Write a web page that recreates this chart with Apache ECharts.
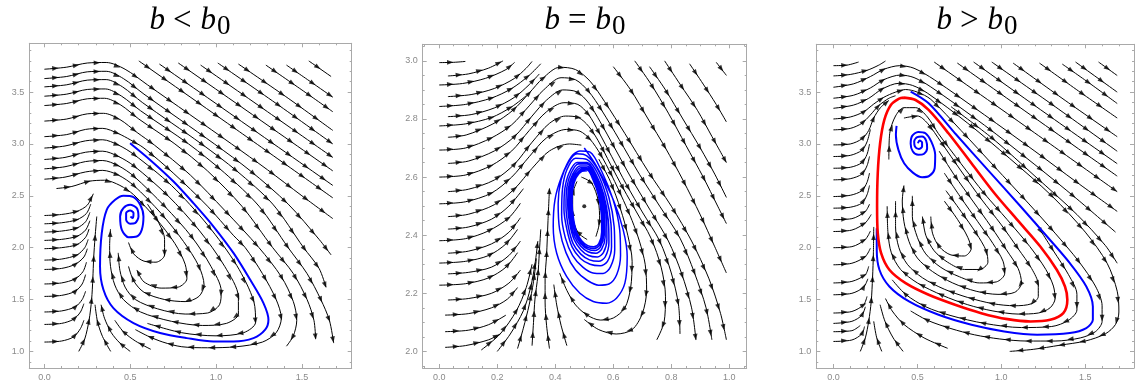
<!DOCTYPE html>
<html>
<head>
<meta charset="utf-8">
<script src="https://cdn.jsdelivr.net/npm/echarts@6/dist/echarts.min.js"></script>
<style>
html,body{margin:0;padding:0;background:#fff;}
#c{width:1137px;height:382px;}
</style>
</head>
<body>
<div id="c"></div>
<script>
// ---------- tick labels ----------
const P1_XLABELS = ['0.0', '0.5', '1.0', '1.5'];
const P1_YLABELS = ['1.0', '1.5', '2.0', '2.5', '3.0', '3.5'];
const P2_XLABELS = ['0.0', '0.2', '0.4', '0.6', '0.8', '1.0'];
const P2_YLABELS = ['2.0', '2.2', '2.4', '2.6', '2.8', '3.0'];
const P3_XLABELS = ['0.0', '0.5', '1.0', '1.5'];
const P3_YLABELS = ['1.0', '1.5', '2.0', '2.5', '3.0', '3.5'];

// ---------- panel 1 : b < b0 ----------
const P1_STREAMS = [
  // diagonal streams entering from the top edge
  [[0.55,3.80],[1.1,3.16],[1.68,2.48]],
  [[0.67,3.77],[1.18,3.18],[1.68,2.60]],
  [[0.78,3.78],[1.24,3.25],[1.68,2.74]],
  [[0.91,3.76],[1.30,3.31],[1.68,2.87]],
  [[1.01,3.78],[1.35,3.39],[1.68,3.00]],
  [[1.13,3.77],[1.42,3.44],[1.68,3.13]],
  [[1.29,3.76],[1.50,3.52],[1.68,3.31]],
  [[1.41,3.76],[1.55,3.60],[1.68,3.45]],
  [[1.54,3.80],[1.67,3.65]],
  // upper rows from the left edge, bending into the diagonals
  [[0,3.72],[0.13,3.74],[0.25,3.78],[0.36,3.785],[0.47,3.72],[0.6,3.57],[1.09,3.0],[1.3,2.75],[1.5,2.5],[1.68,2.28]],
  [[0,3.63],[0.13,3.65],[0.25,3.695],[0.36,3.70],[0.46,3.63],[0.58,3.48],[0.99,3.0],[1.2,2.74],[1.42,2.42],[1.6,2.08],[1.67,1.93]],
  [[0,3.55],[0.13,3.57],[0.25,3.615],[0.36,3.62],[0.455,3.55],[0.57,3.4],[0.915,3.0],[1.12,2.74],[1.33,2.42],[1.51,2.0],[1.6,1.8],[1.64,1.62]],
  [[0,3.46],[0.13,3.48],[0.25,3.525],[0.355,3.53],[0.45,3.46],[0.56,3.32],[0.84,3.0],[1.05,2.72],[1.25,2.4],[1.42,2.0],[1.53,1.75],[1.61,1.5],[1.66,1.3],[1.685,1.08]],
  [[0,3.37],[0.13,3.39],[0.25,3.435],[0.35,3.44],[0.445,3.375],[0.55,3.24],[0.76,3.0],[0.95,2.74],[1.15,2.4],[1.33,2.0],[1.45,1.75],[1.53,1.5],[1.57,1.3],[1.58,1.12]],
  [[0,3.22],[0.13,3.24],[0.25,3.29],[0.345,3.295],[0.44,3.235],[0.54,3.11],[0.64,2.99],[0.85,2.7],[1.05,2.36],[1.25,2.0],[1.38,1.72],[1.45,1.48],[1.47,1.3],[1.45,1.15],[1.41,1.05]],
  [[0,3.07],[0.13,3.09],[0.24,3.14],[0.34,3.15],[0.43,3.1],[0.5,3.04],[0.58,2.96],[0.75,2.72],[0.95,2.4],[1.1,2.12],[1.17,2.0],[1.27,1.75],[1.35,1.5],[1.38,1.32],[1.35,1.18],[1.27,1.09],[1.12,1.045],[0.95,1.035],[0.8,1.045],[0.69,1.09],[0.6,1.15],[0.53,1.21]],
  // rows that turn around the focus inside the blue orbit
  [[0,2.96],[0.12,2.98],[0.24,3.03],[0.34,3.04],[0.43,2.99],[0.52,2.9],[0.74,2.6],[0.95,2.22],[1.12,1.83],[1.22,1.48],[1.23,1.28],[1.16,1.18],[1.0,1.15],[0.8,1.18],[0.6,1.27]],
  [[0,2.85],[0.12,2.87],[0.24,2.92],[0.34,2.93],[0.43,2.88],[0.52,2.79],[0.72,2.5],[0.9,2.17],[1.05,1.82],[1.13,1.52],[1.13,1.36],[1.06,1.27],[0.92,1.25],[0.74,1.29],[0.56,1.38],[0.46,1.5],[0.41,1.64],[0.385,1.82],[0.38,2.02],[0.385,2.18]],
  [[0,2.76],[0.12,2.78],[0.24,2.83],[0.34,2.84],[0.43,2.79],[0.52,2.69],[0.7,2.4],[0.86,2.1],[0.97,1.82],[1.03,1.58],[1.02,1.45],[0.95,1.37],[0.82,1.36],[0.66,1.41],[0.53,1.5],[0.47,1.62],[0.44,1.78],[0.43,1.95]],
  [[0,2.66],[0.12,2.68],[0.24,2.73],[0.34,2.745],[0.43,2.7],[0.52,2.6],[0.68,2.33],[0.81,2.06],[0.9,1.82],[0.93,1.64],[0.9,1.53],[0.82,1.48],[0.7,1.5],[0.58,1.57],[0.52,1.68],[0.49,1.82]],
  [[0.07,2.57],[0.16,2.59],[0.26,2.64],[0.35,2.65],[0.44,2.6],[0.52,2.51],[0.65,2.28],[0.76,2.04],[0.82,1.84],[0.83,1.7],[0.78,1.62],[0.68,1.61],[0.58,1.67],[0.54,1.78]],
  [[0.6,2.42],[0.66,2.26],[0.7,2.08],[0.7,1.93],[0.65,1.86],[0.58,1.87],[0.52,1.94],[0.49,2.05]],
  // lower rows from the left edge, turning upward
  [[0,2.31],[0.1,2.32],[0.19,2.35],[0.25,2.41],[0.285,2.52]],
  [[0,2.23],[0.1,2.24],[0.19,2.27],[0.245,2.33],[0.27,2.42]],
  [[0,2.15],[0.1,2.16],[0.19,2.19],[0.24,2.25],[0.265,2.34]],
  [[0,2.07],[0.1,2.08],[0.19,2.11],[0.24,2.17],[0.265,2.26]],
  [[0,1.99],[0.1,2.0],[0.19,2.03],[0.24,2.1],[0.26,2.18]],
  [[0,1.88],[0.1,1.89],[0.19,1.93],[0.235,2.0],[0.255,2.08]],
  [[0,1.79],[0.1,1.8],[0.18,1.84],[0.23,1.91],[0.25,1.99]],
  [[0,1.65],[0.1,1.66],[0.18,1.7],[0.225,1.77],[0.245,1.86]],
  [[0,1.53],[0.1,1.54],[0.18,1.58],[0.22,1.65],[0.24,1.74]],
  [[0,1.38],[0.1,1.39],[0.18,1.43],[0.22,1.5],[0.24,1.58]],
  [[0,1.26],[0.1,1.27],[0.17,1.31],[0.21,1.38],[0.23,1.46]],
  [[0,1.09],[0.1,1.1],[0.17,1.14],[0.21,1.22],[0.23,1.3]],
  // streams rising from the bottom edge
  [[0.2,1.0],[0.235,1.12],[0.26,1.3],[0.275,1.5],[0.282,1.7],[0.287,1.9],[0.295,2.1],[0.305,2.3]],
  [[0.386,1.0],[0.338,1.145],[0.309,1.29],[0.295,1.45]],
  [[0.5,1.0],[0.44,1.08],[0.39,1.18],[0.35,1.32],[0.33,1.45]],
  [[0.62,1.02],[0.53,1.1],[0.46,1.19],[0.41,1.3]]
];
const P1_BLUE = [
  [0.499,3.007],[0.616,2.846],[0.752,2.638],[0.868,2.429],[0.985,2.204],[1.102,1.947],[1.199,1.69],
  [1.276,1.466],[1.305,1.305],[1.286,1.209],[1.218,1.128],[1.102,1.096],[0.985,1.096],[0.829,1.128],
  [0.674,1.177],[0.519,1.273],[0.402,1.417],[0.344,1.594],[0.324,1.819],[0.334,2.14],[0.363,2.365],
  [0.412,2.461],[0.46,2.5],[0.519,2.487],[0.558,2.413],[0.577,2.301],[0.567,2.172],[0.538,2.108],
  [0.49,2.101],[0.451,2.172],[0.441,2.301],[0.46,2.381],[0.499,2.413],[0.538,2.381],[0.548,2.301],
  [0.528,2.236],[0.499,2.23],[0.476,2.268],[0.476,2.333],[0.499,2.358],[0.519,2.333],[0.515,2.285],[0.501,2.301]
];

// ---------- panel 2 : b = b0 ----------
const P2_STREAMS = [
  // rows from the left edge reaching the top
  [[0.0,2.994],[0.05,2.995],[0.09,2.998]],
  [[0.03,2.948],[0.1,2.955],[0.17,2.975],[0.22,3.0]],
  [[0.0,2.917],[0.08,2.922],[0.16,2.94],[0.23,2.97],[0.26,2.995]],
  [[0.03,2.877],[0.11,2.884],[0.19,2.905],[0.26,2.94],[0.3,2.975],[0.32,2.998]],
  [[0.0,2.843],[0.09,2.85],[0.18,2.872],[0.25,2.905],[0.31,2.95],[0.35,2.99]],
  [[0.03,2.808],[0.11,2.815],[0.19,2.838],[0.26,2.875],[0.31,2.918],[0.345,2.955]],
  [[0.0,2.776],[0.09,2.783],[0.18,2.805],[0.25,2.842],[0.3,2.88]],
  // arches over the centre
  [[0.03,2.737],[0.093,2.745],[0.185,2.783],[0.254,2.83],[0.311,2.89],[0.357,2.94],[0.415,2.978],[0.47,2.97],[0.52,2.93],[0.57,2.86],[0.64,2.75],[0.72,2.62],[0.8,2.5],[0.87,2.38],[0.93,2.25],[0.97,2.13],[0.99,2.04]],
  [[0.0,2.693],[0.09,2.7],[0.18,2.735],[0.25,2.78],[0.31,2.845],[0.36,2.9],[0.42,2.942],[0.47,2.935],[0.515,2.895],[0.56,2.83],[0.62,2.73],[0.69,2.61],[0.76,2.5],[0.83,2.39],[0.88,2.27],[0.92,2.15],[0.94,2.04]],
  [[0.03,2.647],[0.1,2.655],[0.19,2.69],[0.26,2.74],[0.32,2.81],[0.37,2.865],[0.426,2.9],[0.475,2.893],[0.515,2.855],[0.555,2.79],[0.605,2.7],[0.66,2.6],[0.725,2.49],[0.79,2.38],[0.835,2.27],[0.87,2.15],[0.885,2.04]],
  [[0.0,2.6],[0.09,2.607],[0.18,2.64],[0.25,2.69],[0.31,2.76],[0.37,2.825],[0.43,2.856],[0.478,2.85],[0.515,2.815],[0.55,2.755],[0.595,2.67],[0.645,2.575],[0.7,2.48],[0.76,2.38],[0.8,2.27],[0.825,2.16],[0.83,2.06]],
  [[0.03,2.55],[0.1,2.558],[0.19,2.59],[0.26,2.645],[0.32,2.72],[0.38,2.785],[0.435,2.81],[0.48,2.805],[0.515,2.775],[0.548,2.725],[0.59,2.645],[0.635,2.56],[0.68,2.48],[0.73,2.39],[0.765,2.29],[0.78,2.19],[0.775,2.1],[0.75,2.04]],
  [[0.0,2.508],[0.09,2.515],[0.18,2.545],[0.25,2.6],[0.31,2.67],[0.37,2.735],[0.438,2.764],[0.485,2.758],[0.52,2.73],[0.555,2.68],[0.595,2.605],[0.635,2.52],[0.665,2.45],[0.69,2.38],[0.71,2.3],[0.715,2.21],[0.7,2.13],[0.665,2.075],[0.61,2.06],[0.55,2.075],[0.5,2.11]],
  [[0.03,2.464],[0.1,2.472],[0.19,2.505],[0.26,2.56],[0.32,2.63],[0.38,2.69],[0.449,2.714],[0.49,2.71]],
  [[0.55,2.662],[0.59,2.585],[0.625,2.49],[0.65,2.4],[0.665,2.31],[0.66,2.22],[0.64,2.15],[0.6,2.115],[0.555,2.108],[0.51,2.125],[0.47,2.16],[0.44,2.21],[0.415,2.27]],
  // steep streams from the top edge on the right
  [[0.6,2.98],[0.66,2.9],[0.72,2.8],[0.78,2.7],[0.84,2.59],[0.9,2.47],[0.95,2.36],[0.99,2.27]],
  [[0.674,3.0],[0.73,2.92],[0.79,2.82],[0.85,2.71],[0.91,2.6],[0.96,2.5],[0.99,2.44]],
  [[0.725,2.98],[0.78,2.9],[0.84,2.8],[0.9,2.7],[0.95,2.61],[0.99,2.53]],
  [[0.777,3.0],[0.83,2.92],[0.89,2.83],[0.94,2.74],[0.99,2.65]],
  [[0.863,2.99],[0.91,2.92],[0.955,2.85],[0.99,2.79]],
  [[0.955,2.995],[0.99,2.95]],
  // lower rows from the left edge
  [[0.03,2.421],[0.1,2.428],[0.18,2.455],[0.24,2.5],[0.29,2.56]],
  [[0.0,2.381],[0.09,2.388],[0.17,2.415],[0.24,2.46],[0.28,2.51]],
  [[0.03,2.338],[0.1,2.345],[0.18,2.37],[0.24,2.41],[0.28,2.46]],
  [[0.0,2.304],[0.09,2.31],[0.17,2.33],[0.23,2.37],[0.27,2.42]],
  [[0.03,2.267],[0.1,2.272],[0.18,2.29],[0.24,2.33],[0.28,2.38]],
  [[0.0,2.228],[0.09,2.233],[0.17,2.253],[0.23,2.29],[0.27,2.34]],
  [[0.03,2.177],[0.1,2.182],[0.18,2.2],[0.24,2.235],[0.28,2.28]],
  [[0.02,2.125],[0.1,2.13],[0.18,2.15],[0.235,2.18],[0.27,2.22]],
  [[0.02,2.068],[0.1,2.073],[0.17,2.092],[0.23,2.125]],
  [[0.02,2.014],[0.09,2.02],[0.17,2.04],[0.21,2.06]],
  // streams rising from the bottom edge
  [[0.145,2.005],[0.21,2.06],[0.266,2.14],[0.3,2.22],[0.32,2.3]],
  [[0.2,2.0],[0.245,2.06],[0.29,2.14],[0.315,2.22],[0.33,2.3],[0.34,2.38]],
  [[0.27,2.01],[0.29,2.08],[0.31,2.16],[0.325,2.24],[0.335,2.32]],
  [[0.32,2.02],[0.325,2.1],[0.33,2.18],[0.34,2.26],[0.345,2.34],[0.35,2.42]],
  [[0.38,2.01],[0.37,2.09],[0.365,2.17],[0.365,2.25],[0.37,2.33],[0.375,2.45],[0.38,2.56]],
  [[0.44,2.02],[0.42,2.09],[0.405,2.16],[0.395,2.23]],
  // closed orbit around the equilibrium
  [[0.49,2.6],[0.525,2.58],[0.548,2.52],[0.553,2.45],[0.54,2.395]],
  [[0.51,2.385],[0.478,2.41],[0.46,2.47],[0.46,2.54],[0.475,2.585]]
];
const P2_BLUE = [
  [0.5,2.70],[0.543,2.636],[0.6,2.522],[0.634,2.419],[0.648,2.327],[0.64,2.235],[0.611,2.183],[0.577,2.166],[0.531,2.172],[0.485,2.2],[0.439,2.258],[0.405,2.338],[0.393,2.43],[0.399,2.522],[0.422,2.602],[0.456,2.671],[0.485,2.69],
  [0.52,2.686],[0.56,2.62],[0.6,2.52],[0.622,2.42],[0.625,2.33],[0.612,2.265],[0.585,2.232],[0.55,2.228],[0.51,2.245],[0.47,2.28],[0.437,2.34],[0.415,2.42],[0.41,2.51],[0.42,2.59],[0.445,2.65],[0.475,2.68],
  [0.51,2.672],[0.55,2.62],[0.585,2.53],[0.603,2.43],[0.605,2.35],[0.59,2.29],[0.565,2.268],[0.53,2.27],[0.495,2.29],[0.46,2.33],[0.435,2.39],[0.422,2.47],[0.425,2.56],[0.44,2.625],[0.47,2.665],
  [0.51,2.66],[0.545,2.615],[0.575,2.535],[0.592,2.44],[0.594,2.36],[0.58,2.31],[0.555,2.295],[0.52,2.3],[0.487,2.32],[0.458,2.36],[0.44,2.42],[0.43,2.49],[0.433,2.56],[0.448,2.615],[0.475,2.65],
  [0.51,2.65],[0.54,2.61],[0.567,2.54],[0.583,2.45],[0.585,2.375],[0.572,2.325],[0.55,2.31],[0.518,2.315],[0.488,2.335],[0.462,2.37],[0.445,2.43],[0.437,2.5],[0.44,2.565],[0.455,2.615],[0.48,2.645],
  [0.51,2.645],[0.538,2.605],[0.562,2.54],[0.577,2.455],[0.578,2.385],[0.566,2.34],[0.545,2.325],[0.515,2.33],[0.488,2.35],[0.465,2.385],[0.45,2.44],[0.443,2.505],[0.446,2.565],[0.46,2.61],[0.485,2.638],
  [0.51,2.638],[0.535,2.6],[0.557,2.54],[0.571,2.46],[0.572,2.395],[0.56,2.352],[0.54,2.338],[0.513,2.343],[0.488,2.362],[0.467,2.395],[0.453,2.447],[0.447,2.508],[0.45,2.565],[0.464,2.607],[0.488,2.632],
  [0.51,2.632],[0.533,2.597],[0.553,2.54],[0.566,2.465],[0.567,2.402],[0.556,2.36],[0.537,2.347],[0.512,2.352],[0.489,2.37],[0.47,2.402],[0.457,2.452],[0.452,2.51],[0.455,2.563],[0.468,2.603],[0.49,2.627],
  [0.51,2.628],[0.531,2.594],[0.55,2.54],[0.562,2.468],[0.563,2.407],[0.553,2.366],[0.535,2.354],[0.512,2.358],[0.49,2.376],[0.472,2.406],[0.46,2.455],[0.455,2.512],[0.458,2.562],[0.47,2.6],[0.491,2.623],
  [0.51,2.624],[0.53,2.591],[0.548,2.54],[0.559,2.47],[0.56,2.411],[0.55,2.371],[0.533,2.36],[0.512,2.364],[0.491,2.381],[0.474,2.41],[0.463,2.457],[0.458,2.513],[0.461,2.561],[0.472,2.598],[0.492,2.62],[0.51,2.622]
];
const P2_CENTER = [[0.5, 2.5]];

// ---------- panel 3 : b > b0 ----------
const P3_STREAMS = [
  // diagonal streams entering from the top edge
  [[0.6,3.79],[1.1,3.22],[1.69,2.54]],
  [[0.738,3.78],[1.2,3.25],[1.69,2.69]],
  [[0.835,3.79],[1.26,3.3],[1.69,2.81]],
  [[0.943,3.79],[1.32,3.36],[1.69,2.93]],
  [[1.07,3.78],[1.38,3.42],[1.69,3.07]],
  [[1.227,3.78],[1.46,3.51],[1.69,3.25]],
  [[1.363,3.77],[1.53,3.58],[1.69,3.39]],
  [[1.442,3.79],[1.57,3.64],[1.69,3.5]],
  [[1.579,3.79],[1.69,3.66]],
  // upper rows from the left edge
  [[0,3.755],[0.08,3.76],[0.15,3.79]],
  [[0,3.656],[0.1,3.67],[0.2,3.71],[0.27,3.76],[0.31,3.8]],
  [[0,3.547],[0.12,3.58],[0.22,3.65],[0.3,3.72],[0.395,3.755],[0.48,3.73],[0.6,3.62],[0.9,3.28],[1.2,2.93],[1.45,2.63],[1.69,2.35]],
  [[0,3.441],[0.12,3.47],[0.22,3.54],[0.3,3.62],[0.4,3.665],[0.48,3.64],[0.58,3.55],[0.9,3.18],[1.2,2.8],[1.45,2.47],[1.68,2.15]],
  [[0.7,3.36],[0.95,3.05],[1.2,2.69],[1.45,2.32],[1.62,2.02],[1.69,1.85]],
  [[0,3.344],[0.12,3.375],[0.21,3.44],[0.29,3.53],[0.39,3.585],[0.47,3.565],[0.56,3.49],[0.8,3.2],[1.05,2.86],[1.3,2.5],[1.5,2.15],[1.63,1.85],[1.69,1.58],[1.7,1.38],[1.68,1.26],[1.62,1.17],[1.5,1.1],[1.35,1.06],[1.19,1.02],[1.05,1.0]],
  [[0,3.241],[0.1,3.26],[0.18,3.31],[0.24,3.385],[0.3,3.45],[0.37,3.5],[0.43,3.525],[0.5,3.5],[0.58,3.43],[0.76,3.13],[0.96,2.78],[1.16,2.43],[1.32,2.14],[1.46,1.87],[1.56,1.63],[1.6,1.44],[1.6,1.29],[1.56,1.19],[1.47,1.13],[1.32,1.1],[1.15,1.1],[0.99,1.12],[0.84,1.16],[0.7,1.22],[0.56,1.3],[0.46,1.39]],
  // rows that climb along the left side
  [[0,3.136],[0.1,3.15],[0.17,3.2],[0.22,3.28],[0.27,3.37],[0.33,3.44],[0.37,3.465]],
  [[0,2.991],[0.1,3.0],[0.17,3.05],[0.21,3.13],[0.24,3.25],[0.28,3.35],[0.33,3.42]],
  [[0,2.879],[0.1,2.89],[0.17,2.94],[0.2,3.02],[0.22,3.14]],
  [[0,2.766],[0.1,2.775],[0.17,2.82],[0.2,2.9],[0.215,3.0]],
  [[0,2.654],[0.1,2.665],[0.17,2.71],[0.2,2.79],[0.215,2.88]],
  [[0,2.493],[0.1,2.505],[0.17,2.55],[0.2,2.63],[0.215,2.72]],
  [[0,2.381],[0.1,2.39],[0.17,2.43],[0.2,2.51],[0.215,2.6]],
  [[0,2.27],[0.11,2.28],[0.19,2.35],[0.215,2.42]],
  [[0,2.156],[0.11,2.17],[0.19,2.24],[0.225,2.32]],
  [[0,2.0],[0.11,2.01],[0.19,2.08],[0.22,2.16]],
  [[0,1.835],[0.11,1.85],[0.19,1.915],[0.22,1.995]],
  [[0,1.66],[0.11,1.675],[0.19,1.74],[0.21,1.82]],
  [[0,1.546],[0.11,1.56],[0.18,1.62],[0.205,1.7]],
  [[0,1.37],[0.11,1.385],[0.18,1.45],[0.2,1.53]],
  [[0,1.27],[0.11,1.29],[0.17,1.35],[0.19,1.43]],
  [[0,1.19],[0.11,1.2],[0.16,1.25]],
  [[0,1.096],[0.11,1.11],[0.17,1.17],[0.185,1.24]],
  // streams rising from the bottom edge
  [[0.16,1.0],[0.19,1.13],[0.21,1.29],[0.225,1.48],[0.233,1.71],[0.238,1.95],[0.24,2.2]],
  [[0.288,1.0],[0.258,1.13],[0.24,1.29]],
  [[0.415,1.0],[0.356,1.13],[0.307,1.29],[0.278,1.45]],
  [[0.68,1.03],[0.54,1.13],[0.42,1.26],[0.35,1.39],[0.31,1.51]],
  // between the limit cycle and the outer blue orbit
  [[1.2,2.25],[1.31,1.97],[1.4,1.74],[1.45,1.55],[1.45,1.4],[1.4,1.3],[1.3,1.24],[1.12,1.23],[0.9,1.27],[0.7,1.345],[0.55,1.43],[0.43,1.55],[0.35,1.69]],
  // spirals inside the limit cycle
  [[0.33,2.85],[0.335,3.1],[0.37,3.27],[0.42,3.35],[0.49,3.35],[0.56,3.26],[0.625,3.1],[0.76,2.81],[0.9,2.52],[1.035,2.27],[1.17,2.01],[1.265,1.79],[1.31,1.63],[1.32,1.51],[1.29,1.42],[1.22,1.37],[1.1,1.36],[0.95,1.39],[0.8,1.45],[0.65,1.54],[0.5,1.66],[0.4,1.79],[0.345,1.95],[0.325,2.14],[0.32,2.4]],
  [[0.42,3.25],[0.5,3.27],[0.56,3.2],[0.64,3.02],[0.76,2.74],[0.88,2.47],[1.0,2.22],[1.1,1.99],[1.18,1.8],[1.22,1.64],[1.22,1.53],[1.18,1.46],[1.08,1.44],[0.95,1.46],[0.8,1.52],[0.66,1.6],[0.53,1.71],[0.44,1.84],[0.39,2.0],[0.37,2.2],[0.37,2.45]],
  [[0.63,2.93],[0.72,2.7],[0.83,2.45],[0.94,2.2],[1.03,1.98],[1.1,1.8],[1.12,1.66],[1.08,1.57],[0.98,1.55],[0.85,1.58],[0.71,1.66],[0.59,1.77],[0.5,1.9],[0.45,2.06],[0.42,2.25],[0.41,2.45],[0.42,2.6]],
  [[0.66,2.72],[0.76,2.48],[0.86,2.25],[0.95,2.04],[1.01,1.87],[1.02,1.75],[0.97,1.67],[0.87,1.66],[0.75,1.72],[0.64,1.81],[0.55,1.94],[0.5,2.1],[0.47,2.3],[0.47,2.5]],
  [[0.67,2.55],[0.76,2.35],[0.85,2.14],[0.91,1.97],[0.92,1.86],[0.87,1.79],[0.78,1.79],[0.68,1.86],[0.6,1.97],[0.55,2.12],[0.53,2.3]],
  [[0.66,2.45],[0.74,2.27],[0.8,2.1],[0.82,1.99],[0.78,1.92],[0.7,1.93],[0.63,2.01],[0.59,2.14],[0.58,2.3]]
];
const P3_RED = [
  [0.42,3.447],[0.489,3.424],[0.567,3.328],[0.685,3.103],[0.822,2.814],[0.959,2.525],[1.095,2.268],[1.232,2.012],
  [1.33,1.787],[1.379,1.626],[1.393,1.498],[1.369,1.369],[1.291,1.305],[1.174,1.289],[1.037,1.311],[0.88,1.369],
  [0.724,1.45],[0.567,1.546],[0.43,1.658],[0.333,1.787],[0.284,1.947],[0.264,2.14],[0.26,2.397],[0.264,2.718],
  [0.278,3.007],[0.303,3.232],[0.342,3.376],[0.391,3.437],[0.42,3.447]
];
const P3_BLUE_OUTER = [
  [0.46,3.505],[0.567,3.392],[0.724,3.103],[0.919,2.75],[1.115,2.397],[1.272,2.108],[1.408,1.851],[1.506,1.626],
  [1.545,1.434],[1.545,1.305],[1.506,1.225],[1.408,1.177],[1.213,1.161],[1.017,1.193],[0.822,1.257],[0.626,1.353],
  [0.45,1.482],[0.333,1.626],[0.274,1.787],[0.258,1.979],[0.258,2.188]
];
const P3_BLUE_INNER = [
  [0.503,3.007],[0.513,3.033],[0.528,3.013],[0.528,2.975],[0.509,2.952],[0.485,2.975],[0.481,3.023],[0.499,3.065],
  [0.528,3.071],[0.552,3.033],[0.558,2.959],[0.538,2.904],[0.505,2.895],[0.473,2.927],[0.46,3.001],[0.469,3.078],
  [0.505,3.116],[0.548,3.103],[0.583,3.023],[0.606,2.895],[0.603,2.766],[0.571,2.692],[0.528,2.679],[0.473,2.724],
  [0.421,2.814],[0.387,2.943],[0.372,3.087],[0.376,3.174]
];

// ---------- styling ----------
const FRAME = '#a9a9a9';
const LABEL = '#8a8a8a';
const BLUE = '#0000ff';
const RED = '#ff0000';
const ARROW = 'path://M0,0L10,4L0,8Z';

const panels = [
  { grid: {left: 29.3, top: 43.3, width: 322.4, height: 325},
    x: {min: -0.088, max: 1.79, step: 0.5, minor: 5, split: 4, labels: P1_XLABELS},
    y: {min: 0.84, max: 3.97, step: 0.5, minor: 5, split: 6, labels: P1_YLABELS},
    streams: P1_STREAMS,
    curves: [{pts: P1_BLUE, color: BLUE, width: 2}],
    dots: [],
    op: '<', cx: 190 },
  { grid: {left: 422.7, top: 44.3, width: 324, height: 324},
    x: {min: -0.057, max: 1.06, step: 0.2, minor: 4, split: 5, labels: P2_XLABELS},
    y: {min: 1.943, max: 3.057, step: 0.2, minor: 4, split: 5, labels: P2_YLABELS},
    streams: P2_STREAMS,
    curves: [{pts: P2_BLUE, color: BLUE, width: 1.5}],
    dots: P2_CENTER,
    op: '=', cx: 585 },
  { grid: {left: 816.3, top: 44.3, width: 322.4, height: 324},
    x: {min: -0.102, max: 1.79, step: 0.5, minor: 5, split: 4, labels: P3_XLABELS},
    y: {min: 0.84, max: 3.961, step: 0.5, minor: 5, split: 6, labels: P3_YLABELS},
    streams: P3_STREAMS,
    curves: [{pts: P3_BLUE_OUTER, color: BLUE, width: 2}, {pts: P3_BLUE_INNER, color: BLUE, width: 2}, {pts: P3_RED, color: RED, width: 2.6}],
    dots: [],
    op: '>', cx: 977 }
];

function labelFormatter(labels) {
  return function (v) {
    const s = v.toFixed(1);
    return (labels.indexOf(s) >= 0 && Math.abs(v - Number(s)) < 1e-7) ? s : '';
  };
}

function makeAxis(gi, spec, position, showLabels) {
  return {
    type: 'value', gridIndex: gi, position: position,
    min: spec.min, max: spec.max,
    minInterval: spec.step, maxInterval: spec.step, splitNumber: spec.split,
    splitLine: {show: false},
    axisLine: {show: true, onZero: false, lineStyle: {color: FRAME, width: 1}},
    axisTick: {show: true, inside: true, length: 4, lineStyle: {color: FRAME, width: 1}},
    minorTick: {show: true, splitNumber: spec.minor, length: 2, lineStyle: {color: FRAME, width: 1}},
    minorSplitLine: {show: false},
    axisLabel: showLabels ? {
      show: true, formatter: labelFormatter(spec.labels), color: LABEL,
      fontSize: 9, fontFamily: 'Liberation Sans', margin: 5
    } : {show: false}
  };
}

const chart = echarts.init(document.getElementById('c'), null, {renderer: 'canvas'});

const grid = [], xAxis = [], yAxis = [], series = [], graphic = [];
panels.forEach(function (p, i) {
  grid.push(Object.assign({containLabel: false}, p.grid));
  xAxis.push(makeAxis(i, p.x, 'bottom', true));
  xAxis.push(makeAxis(i, p.x, 'top', false));
  yAxis.push(makeAxis(i, p.y, 'left', true));
  yAxis.push(makeAxis(i, p.y, 'right', false));
  const ax = {xAxisIndex: 2 * i, yAxisIndex: 2 * i};
  p.streams.forEach(function (s) {
    series.push(Object.assign({
      type: 'line', data: s, showSymbol: false, symbol: 'none', smooth: 0.3,
      lineStyle: {color: '#000', width: 1}, silent: true, z: 2, animation: false
    }, ax));
  });
  series.push(Object.assign({
    id: 'arrows' + i, type: 'scatter', data: [], symbol: ARROW, symbolSize: [6.4, 4.8],
    itemStyle: {color: '#000'}, silent: true, z: 3, animation: false
  }, ax));
  p.curves.forEach(function (c) {
    series.push(Object.assign({
      type: 'line', data: c.pts, showSymbol: false, symbol: 'none', smooth: 0.3,
      lineStyle: {color: c.color, width: c.width}, silent: true, z: 4, animation: false
    }, ax));
  });
  if (p.dots.length) {
    series.push(Object.assign({
      type: 'scatter', data: p.dots, symbol: 'circle', symbolSize: 4,
      itemStyle: {color: '#000'}, silent: true, z: 5, animation: false
    }, ax));
  }
  graphic.push({
    type: 'text', x: p.cx, y: 1, silent: true,
    style: {
      text: '{i|b}{o|' + p.op + '}{i|b}{s|0}',
      align: 'center', verticalAlign: 'top',
      rich: {
        i: {fontFamily: 'Liberation Serif', fontStyle: 'italic', fontSize: 31, lineHeight: 40, verticalAlign: 'middle', fill: '#000'},
        o: {fontFamily: 'Liberation Serif', fontSize: 33, lineHeight: 40, verticalAlign: 'middle', padding: [0, 9, 0, 8], fill: '#000'},
        s: {fontFamily: 'Liberation Serif', fontSize: 27, lineHeight: 40, verticalAlign: 'middle', padding: [11, 0, 0, 1], fill: '#000'}
      }
    }
  });
});

chart.setOption({
  animation: false,
  backgroundColor: '#fff',
  grid: grid, xAxis: xAxis, yAxis: yAxis, series: series, graphic: graphic
});

// arrowheads spaced evenly (in screen pixels) along each streamline
function arrowsAlong(gi, pts, step, first) {
  const px = pts.map(function (p) { return chart.convertToPixel({gridIndex: gi}, p); });
  let total = 0;
  for (let k = 1; k < px.length; k++) total += Math.hypot(px[k][0] - px[k - 1][0], px[k][1] - px[k - 1][1]);
  const out = [];
  let next = Math.min(first, total / 2);
  let acc = 0;
  for (let k = 1; k < px.length; k++) {
    const x0 = px[k - 1][0], y0 = px[k - 1][1], x1 = px[k][0], y1 = px[k][1];
    const seg = Math.hypot(x1 - x0, y1 - y0);
    if (seg === 0) continue;
    while (next <= acc + seg && next <= total - 2) {
      const t = (next - acc) / seg;
      const x = x0 + (x1 - x0) * t, y = y0 + (y1 - y0) * t;
      const ang = Math.atan2(-(y1 - y0), x1 - x0) * 180 / Math.PI;
      out.push({value: chart.convertFromPixel({gridIndex: gi}, [x, y]), symbolRotate: ang});
      next += step;
    }
    acc += seg;
  }
  return out;
}

const arrowUpdates = panels.map(function (p, i) {
  let data = [];
  p.streams.forEach(function (s) { data = data.concat(arrowsAlong(i, s, 21, 11)); });
  return {id: 'arrows' + i, data: data};
});
chart.setOption({series: arrowUpdates});
</script>
</body>
</html>
